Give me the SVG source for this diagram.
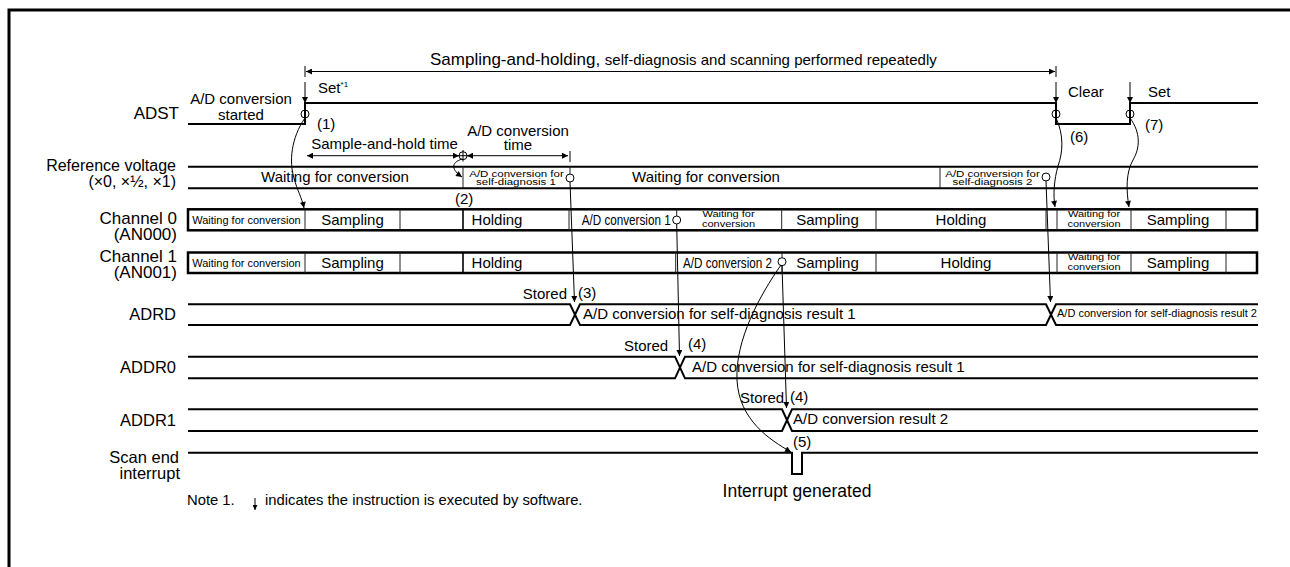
<svg xmlns="http://www.w3.org/2000/svg" width="1290" height="567" viewBox="0 0 1290 567">
<defs>
<marker id="ah" viewBox="0 0 10 10" refX="10" refY="5" markerWidth="8" markerHeight="6" markerUnits="userSpaceOnUse" orient="auto-start-reverse"><path d="M0,0 L10,5 L0,10 z" fill="#000"/></marker>
<marker id="ahs" viewBox="0 0 10 10" refX="10" refY="5" markerWidth="6" markerHeight="5" markerUnits="userSpaceOnUse" orient="auto"><path d="M0,0 L10,5 L0,10 z" fill="#000"/></marker>
</defs>
<style>
text{font-family:"Liberation Sans",Arial,sans-serif;fill:#000}
.t15{font-size:15px}
.lbl{font-size:16.5px;text-anchor:end}
.ch{font-size:17px;text-anchor:end}
.mid{text-anchor:middle}
.sig{fill:none;stroke:#000;stroke-width:2}
.box{fill:none;stroke:#000;stroke-width:2.5}
.dv{stroke:#222;stroke-width:1}
.thin{fill:none;stroke:#000;stroke-width:1}
.circ{fill:none;stroke:#000;stroke-width:1}
.s11{font-size:11px}
</style>
<rect width="1290" height="567" fill="#fff"/>
<path d="M9,567 V10 H1290" fill="none" stroke="#000" stroke-width="3"/>

<g id="dim-repeat">
<line class="thin" x1="305" y1="66" x2="305" y2="77"/>
<line class="thin" x1="1056" y1="66" x2="1056" y2="77"/>
<line class="thin" x1="306" y1="71.5" x2="1055" y2="71.5" marker-start="url(#ah)" marker-end="url(#ah)"/>
<text x="430" y="65"><tspan font-size="17">Sampling-and-holding, </tspan><tspan font-size="15">self-diagnosis and scanning performed repeatedly</tspan></text>
</g>

<g id="adst">
<text class="lbl" x="179" y="119" style="font-size:17px">ADST</text>
<path class="sig" d="M188,124 H305 V103 H1056 V124 H1130 V103 H1258"/>
<text class="t15 mid" x="241" y="104">A/D conversion</text>
<text class="t15 mid" x="241" y="120">started</text>
<line class="thin" x1="305" y1="82" x2="305" y2="103" marker-end="url(#ah)"/>
<line class="thin" x1="1056" y1="82" x2="1056" y2="103" marker-end="url(#ah)"/>
<line class="thin" x1="1130" y1="82" x2="1130" y2="103" marker-end="url(#ah)"/>
<text class="t15" x="318" y="93">Set<tspan style="font-size:8px" dy="-6">*1</tspan></text>
<text class="t15" x="1068" y="97">Clear</text>
<text class="t15" x="1148" y="97">Set</text>
<circle class="circ" cx="305" cy="114" r="4"/>
<circle class="circ" cx="1056" cy="114" r="4"/>
<circle class="circ" cx="1130" cy="114" r="4"/>
<text class="t15" x="317" y="129">(1)</text>
<text class="t15" x="1070" y="142">(6)</text>
<text class="t15" x="1145" y="130">(7)</text>
</g>

<g id="dim-times">
<line class="thin" x1="307" y1="155.7" x2="459" y2="155.7" marker-start="url(#ah)" marker-end="url(#ah)"/>
<line class="thin" x1="467" y1="155.7" x2="568" y2="155.7" marker-start="url(#ah)" marker-end="url(#ah)"/>
<line class="thin" x1="570" y1="151" x2="570" y2="162"/>
<circle class="circ" cx="463" cy="155.7" r="4"/>
<path class="thin" d="M463,150 V161.5 M457,155.7 H469"/>
<text class="t15 mid" x="384.5" y="149">Sample-and-hold time</text>
<text class="t15 mid" x="518" y="135.5">A/D conversion</text>
<text class="t15 mid" x="518" y="149.5">time</text>
<text class="t15" x="455" y="204">(2)</text>
</g>

<g id="ref-voltage">
<text class="lbl" x="176" y="171" style="font-size:16px">Reference voltage</text>
<text class="lbl" x="176" y="187" style="font-size:16px">(×0, ×½, ×1)</text>
<path class="sig" d="M188,166.7 H1258 M188,188.3 H1258"/>
<line class="dv" x1="463" y1="166.7" x2="463" y2="188.3"/>
<line class="dv" x1="940" y1="166.7" x2="940" y2="188.3"/>
<line class="dv" x1="570" y1="166.7" x2="570" y2="174"/>
<circle class="circ" cx="570" cy="178" r="4"/>
<circle class="circ" cx="1046" cy="177" r="4"/>
<text class="t15 mid" x="335" y="182">Waiting for conversion</text>
<text class="t15 mid" x="706" y="182">Waiting for conversion</text>
<text class="mid" font-size="11.5" transform="translate(516.5,177.3) scale(1,0.72)">A/D conversion for</text>
<text class="mid" font-size="11.5" transform="translate(516,184.5) scale(1,0.72)">self-diagnosis 1</text>
<text class="mid" font-size="11.5" transform="translate(992.5,177.3) scale(1,0.72)">A/D conversion for</text>
<text class="mid" font-size="11.5" transform="translate(992.5,184.5) scale(1,0.72)">self-diagnosis 2</text>
</g>

<g id="channel0">
<text class="ch" x="177" y="223.5">Channel 0</text>
<text class="ch" x="177" y="240">(AN000)</text>
<rect class="box" x="188" y="209.3" width="1069" height="21"/>
<path class="dv" d="M305,209.3 V230.3 M400,209.3 V230.3 M569,209.3 V230.3 M676.7,209.3 V216 M781.7,209.3 V230.3 M876,209.3 V230.3 M1046,209.3 V230.3 M1057,209.3 V230.3 M1131,209.3 V230.3 M1226,209.3 V230.3"/>
<line stroke="#000" stroke-width="1.6" x1="463" y1="209.3" x2="463" y2="230.3"/>
<circle class="circ" cx="676.7" cy="220" r="4"/>
<text class="s11 mid" x="246.5" y="223.5">Waiting for conversion</text>
<text class="t15 mid" x="352.5" y="224.5">Sampling</text>
<text class="t15 mid" x="497" y="224.5">Holding</text>
<text x="581.7" y="224.5" font-size="14" textLength="89" lengthAdjust="spacingAndGlyphs">A/D conversion 1</text>
<text class="mid" font-size="11" transform="translate(728.5,216.7) scale(1,0.8)">Waiting for</text>
<text class="mid" font-size="11" transform="translate(728.5,226.7) scale(1,0.8)">conversion</text>
<text class="t15 mid" x="827.5" y="224.5">Sampling</text>
<text class="t15 mid" x="961" y="224.5">Holding</text>
<text class="mid" font-size="11" transform="translate(1094,216.7) scale(1,0.8)">Waiting for</text>
<text class="mid" font-size="11" transform="translate(1094,226.7) scale(1,0.8)">conversion</text>
<text class="t15 mid" x="1178" y="224.5">Sampling</text>
</g>

<g id="channel1">
<text class="ch" x="177" y="261.5">Channel 1</text>
<text class="ch" x="177" y="278">(AN001)</text>
<rect class="box" x="188" y="252.5" width="1069" height="20.5"/>
<path class="dv" d="M305,252.5 V273 M400,252.5 V273 M675.7,252.5 V273 M782,252.5 V257.7 M782,265.7 V273 M876,252.5 V273 M1057,252.5 V273 M1131,252.5 V273 M1226,252.5 V273"/>
<line stroke="#000" stroke-width="1.6" x1="463" y1="252.5" x2="463" y2="273"/>
<circle class="circ" cx="782" cy="261.7" r="4"/>
<text class="s11 mid" x="246.5" y="266.5">Waiting for conversion</text>
<text class="t15 mid" x="352.5" y="267.5">Sampling</text>
<text class="t15 mid" x="497" y="267.5">Holding</text>
<text x="683" y="267.5" font-size="14" textLength="89" lengthAdjust="spacingAndGlyphs">A/D conversion 2</text>
<text class="t15 mid" x="827.5" y="267.5">Sampling</text>
<text class="t15 mid" x="966" y="267.5">Holding</text>
<text class="mid" font-size="11" transform="translate(1094,259.5) scale(1,0.8)">Waiting for</text>
<text class="mid" font-size="11" transform="translate(1094,269.5) scale(1,0.8)">conversion</text>
<text class="t15 mid" x="1178" y="267.5">Sampling</text>
</g>

<g id="adrd">
<text class="lbl" x="176" y="320">ADRD</text>
<path class="sig" d="M188,304.3 H570 L580,325 H1046 L1056,304.3 H1258 M188,325 H570 L580,304.3 H1046 L1056,325 H1258"/>
<text class="t15" x="583" y="318.5">A/D conversion for self-diagnosis result 1</text>
<text font-size="11" x="1057" y="317">A/D conversion for self-diagnosis result 2</text>
<text class="t15" x="567" y="299" text-anchor="end">Stored</text>
<text class="t15" x="578" y="298">(3)</text>
</g>

<g id="addr0">
<text class="lbl" x="176" y="373">ADDR0</text>
<path class="sig" d="M188,356.7 H675 L685,378.3 H1258 M188,378.3 H675 L685,356.7 H1258"/>
<text class="t15" x="692" y="372">A/D conversion for self-diagnosis result 1</text>
<text class="t15" x="624" y="351">Stored</text>
<text class="t15" x="688" y="349">(4)</text>
</g>

<g id="addr1">
<text class="lbl" x="176" y="426">ADDR1</text>
<path class="sig" d="M188,409.3 H782 L792,431 H1258 M188,431 H782 L792,409.3 H1258"/>
<text class="t15" x="793" y="424">A/D conversion result 2</text>
<text class="t15" x="740" y="403">Stored</text>
<text class="t15" x="790" y="402">(4)</text>
</g>

<g id="scan-end">
<text class="lbl" x="179" y="463">Scan end</text>
<text class="lbl" x="180" y="479">interrupt</text>
<path class="sig" d="M188,452.7 H792 V474 H802 V452.7 H1258"/>
<text class="t15" x="793" y="447">(5)</text>
<text class="mid" font-size="17.5" x="797" y="497">Interrupt generated</text>
</g>

<g id="connectors">
<path class="thin" d="M305,118 C291,138 289,162 294,178 C297,190 302,198 304,208" marker-end="url(#ah)"/>
<path class="thin" d="M462,159 C450,163 452,170 462,177" marker-end="url(#ah)"/>
<path class="thin" d="M570,182 L574.5,302" marker-end="url(#ah)"/>
<path class="thin" d="M676.7,224 L679.5,356" marker-end="url(#ah)"/>
<path class="thin" d="M782,265.7 L786.5,408" marker-end="url(#ah)"/>
<path class="thin" d="M781,265 C760,295 735,340 737,380 C739,420 770,440 791,452" marker-end="url(#ah)"/>
<path class="thin" d="M1046,181 L1050.5,302" marker-end="url(#ah)"/>
<path class="thin" d="M1056,118 C1064,135 1063,152 1058,166 C1054,180 1053,195 1055,207" marker-end="url(#ah)"/>
<path class="thin" d="M1130,118 C1141,133 1140,148 1133,160 C1126,172 1126,190 1129,207" marker-end="url(#ah)"/>
</g>

<g id="note">
<text x="187" y="505" font-size="14.8">Note 1.</text>
<line class="thin" x1="255" y1="498" x2="255" y2="510" marker-end="url(#ahs)"/>
<text x="265" y="505" font-size="14.8">indicates the instruction is executed by software.</text>
</g>
</svg>
